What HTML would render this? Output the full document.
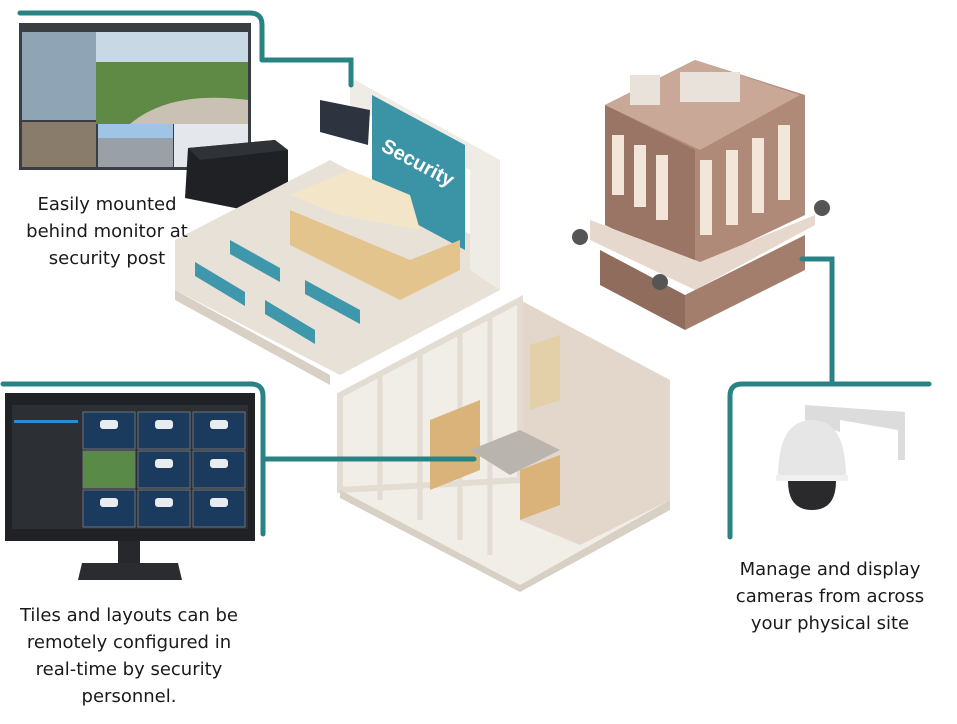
<!DOCTYPE html>
<html><head><meta charset="utf-8"><style>
html,body{margin:0;padding:0;background:#fff;}
body{width:957px;height:724px;overflow:hidden;position:relative;font-family:"DejaVu Sans","Liberation Sans",sans-serif;}
.t{position:absolute;text-align:center;font-size:18px;line-height:27px;color:#1a1a1a;}
</style></head><body>
<svg width="957" height="724" style="position:absolute;left:0;top:0">
<!-- top-left monitor -->
<rect x="19" y="23" width="232" height="147" fill="#3a3d42"/>
<rect x="22" y="32" width="74" height="88" fill="#8fa4b4"/>
<rect x="96" y="32" width="152" height="92" fill="#5e8a46"/>
<rect x="96" y="32" width="152" height="30" fill="#c8d8e4"/>
<path d="M130 124 Q170 90 248 100 L248 124Z" fill="#c9c2b4"/>
<rect x="22" y="122" width="74" height="45" fill="#8a7c6a"/>
<rect x="98" y="124" width="75" height="43" fill="#9aa0a8"/>
<rect x="98" y="124" width="75" height="14" fill="#9ec4e6"/>
<rect x="174" y="124" width="74" height="43" fill="#e4e8ec"/>
<!-- mini pc -->
<path d="M188 148 L275 140 L288 150 L288 200 L245 210 L185 198Z" fill="#1f2124"/>
<path d="M188 148 L275 140 L288 150 L200 160Z" fill="#2f3236"/>
<!-- security room -->
<path d="M175 290 L340 375 L500 290 L500 250 L330 160 L175 240Z" fill="#e7e1d8"/>
<path d="M175 290 L330 375 L330 385 L175 300Z" fill="#d8d0c4"/>
<path d="M350 85 L355 80 L500 160 L500 290 L470 270 L470 170 L350 105Z" fill="#efebe5"/>
<path d="M372 95 L465 145 L465 250 L372 200Z" fill="#3b93a6"/>
<text x="380" y="150" transform="rotate(28 380 150)" font-family="Liberation Sans" font-size="20" font-weight="bold" fill="#fff">Security</text>
<path d="M320 100 L370 110 L368 145 L320 132Z" fill="#2d3440"/>
<path d="M290 210 L410 260 L460 240 L460 270 L400 300 L290 245Z" fill="#e3c48c"/>
<path d="M290 195 L350 170 L410 195 L420 230 L340 215Z" fill="#f3e6c8"/>
<g fill="#3f97ab">
<path d="M195 262 L245 292 L245 306 L195 276Z"/>
<path d="M230 240 L280 268 L280 282 L230 254Z"/>
<path d="M265 300 L315 330 L315 344 L265 314Z"/>
<path d="M305 280 L360 310 L360 324 L305 294Z"/>
</g>
<!-- building -->
<path d="M605 105 L695 60 L805 95 L805 215 L700 265 L605 225Z" fill="#b08a78"/>
<path d="M605 105 L695 150 L695 270 L605 225Z" fill="#9a7464"/>
<path d="M605 105 L695 60 L800 95 L700 150Z" fill="#c9a898"/>
<path d="M590 240 L695 290 L815 225 L815 215 L700 262 L590 220Z" fill="#e6d8cc"/>
<path d="M600 250 L685 295 L685 330 L600 285Z" fill="#8f6c5c"/>
<path d="M685 295 L805 235 L805 270 L685 330Z" fill="#a47e6d"/>
<g fill="#f2e6d8">
<rect x="612" y="135" width="12" height="60"/><rect x="634" y="145" width="12" height="62"/><rect x="656" y="155" width="12" height="65"/>
<rect x="700" y="160" width="12" height="75"/><rect x="726" y="150" width="12" height="75"/><rect x="752" y="138" width="12" height="75"/><rect x="778" y="125" width="12" height="75"/>
</g>
<rect x="630" y="75" width="30" height="30" fill="#e8e2da"/>
<rect x="680" y="72" width="60" height="30" fill="#e8e2da"/>
<circle cx="580" cy="237" r="8" fill="#555"/><circle cx="660" cy="282" r="8" fill="#555"/><circle cx="822" cy="208" r="8" fill="#555"/>
<!-- office -->
<path d="M340 490 L520 585 L670 500 L670 395 L520 300 L340 395Z" fill="#f1ede7"/>
<path d="M520 300 L670 380 L670 500 L580 545 L520 520Z" fill="#e2d7ca"/>
<path d="M340 395 L520 300 L520 480 L340 490Z" fill="none" stroke="#e2dcd3" stroke-width="6"/>
<g stroke="#e2dcd3" stroke-width="5"><line x1="380" y1="375" x2="380" y2="500"/><line x1="420" y1="354" x2="420" y2="520"/><line x1="460" y1="333" x2="460" y2="540"/><line x1="490" y1="317" x2="490" y2="555"/></g>
<path d="M340 490 L520 585 L670 500 L670 510 L520 592 L340 498Z" fill="#d8d0c4"/>
<path d="M430 420 L480 400 L480 470 L430 490Z" fill="#d9b37a"/>
<path d="M520 470 L560 455 L560 505 L520 520Z" fill="#d9b37a"/>
<path d="M530 345 L560 335 L560 400 L530 410Z" fill="#e3cfa8"/>
<path d="M470 450 L520 430 L560 450 L510 475Z" fill="#b9b4ad"/>
<!-- bottom-left monitor -->
<rect x="5" y="393" width="250" height="148" fill="#202226"/>
<rect x="12" y="405" width="236" height="124" fill="#2c2f34"/>
<rect x="14" y="420" width="64" height="3" fill="#2a8ad4"/>
<g fill="#1a3a5e" stroke="#6f7276" stroke-width="1">
<rect x="83" y="412" width="52" height="37"/><rect x="138" y="412" width="52" height="37"/><rect x="193" y="412" width="52" height="37"/>
<rect x="83" y="451" width="52" height="37" fill="#5a8a48"/><rect x="138" y="451" width="52" height="37"/><rect x="193" y="451" width="52" height="37"/>
<rect x="83" y="490" width="52" height="37"/><rect x="138" y="490" width="52" height="37"/><rect x="193" y="490" width="52" height="37"/>
</g>
<g fill="#e8ecef"><rect x="100" y="420" width="18" height="9" rx="3"/><rect x="155" y="420" width="18" height="9" rx="3"/><rect x="210" y="420" width="18" height="9" rx="3"/><rect x="155" y="459" width="18" height="9" rx="3"/><rect x="210" y="459" width="18" height="9" rx="3"/><rect x="100" y="498" width="18" height="9" rx="3"/><rect x="155" y="498" width="18" height="9" rx="3"/><rect x="210" y="498" width="18" height="9" rx="3"/></g>
<rect x="118" y="541" width="22" height="22" fill="#26282b"/>
<path d="M82 563 L178 563 L182 580 L78 580Z" fill="#2a2c2f"/>
<!-- dome camera -->
<path d="M805 405 L905 412 L905 460 L898 460 L898 430 L840 420 L840 432 L805 420Z" fill="#dcdcdc"/>
<path d="M778 478 Q778 420 812 420 Q846 420 846 478Z" fill="#e6e6e6"/>
<rect x="776" y="475" width="72" height="6" fill="#f0f0f0"/>
<path d="M788 481 L836 481 Q836 510 812 510 Q788 510 788 481Z" fill="#2a2a2c"/>
<!-- teal connectors -->
<g fill="none" stroke="#2a8383" stroke-width="5" stroke-linecap="round">
<path d="M20 13 L250 13 Q262 13 262 25 L262 60"/>
<path d="M262 60 L351 60 L351 85"/>
<path d="M3 384 L251 384 Q263 384 263 396 L263 534"/>
<path d="M263 459 L474 459"/>
<path d="M802 259 L832 259 L832 384"/>
<path d="M929 384 L742 384 Q730 384 730 396 L730 537"/>
</g>
</svg>
<div class="t" style="left:7px;top:191px;width:200px;">Easily mounted<br>behind monitor at<br>security post</div>
<div class="t" style="left:0;top:602px;width:258px;">Tiles and layouts can be<br>remotely configured in<br>real-time by security<br>personnel.</div>
<div class="t" style="left:715px;top:556px;width:230px;">Manage and display<br>cameras from across<br>your physical site</div>
</body></html>
